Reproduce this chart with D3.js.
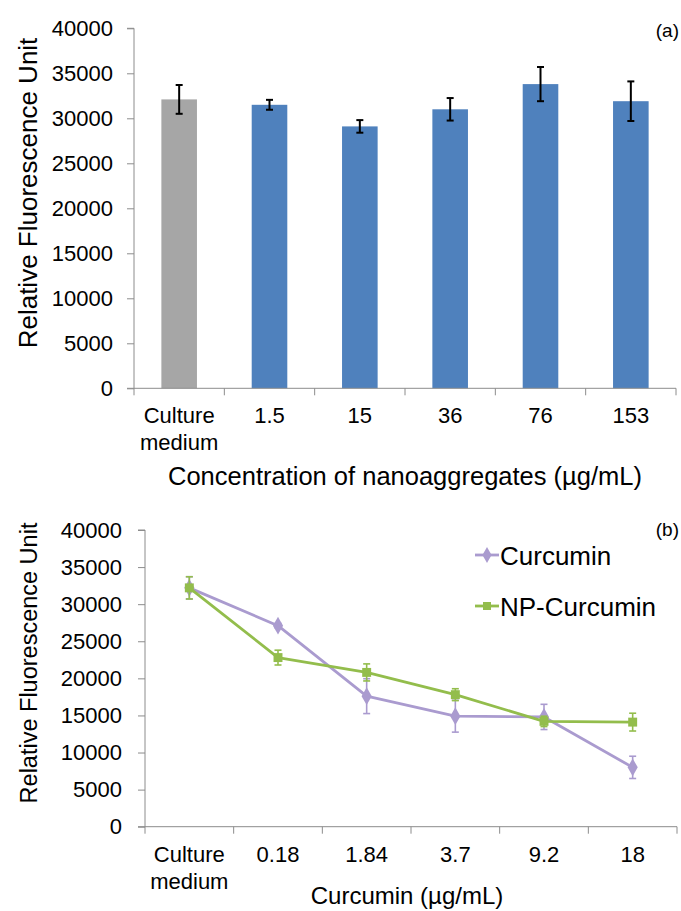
<!DOCTYPE html>
<html>
<head>
<meta charset="utf-8">
<script src="https://cdn.jsdelivr.net/npm/d3@7"></script>
<style>
  html, body { margin: 0; padding: 0; background: #fff; }
  svg { display: block; font-family: "Liberation Sans", Arial, sans-serif; }
</style>
</head>
<body>
<svg id="chart" width="681" height="911"></svg>
<script>
// ---------- Data ----------
const yTicks = [0, 5000, 10000, 15000, 20000, 25000, 30000, 35000, 40000];

// Panel (a)
const barCategories = ["Culture medium", "1.5", "15", "36", "76", "153"];
const barValues = [32100, 31500, 29100, 31000, 33800, 31900];
const barErrors = [1600, 550, 700, 1250, 1900, 2200];

// Panel (b)
const lineCategories = ["Culture medium", "0.18", "1.84", "3.7", "9.2", "18"];
const seriesNames = ["Curcumin", "NP-Curcumin"];
const curcuminValues = [32200, 27100, 17600, 14900, 14800, 8000];
const curcuminErrors = [1500, 300, 2350, 2150, 1700, 1500];
const npValues = [32200, 22800, 20800, 17800, 14200, 14100];
const npErrors = [1500, 1000, 1150, 800, 700, 1200];

// ---------- Styles ----------
const axisColor = "#8c8c8c";
const greyBar = "#a6a6a6";
const blueBar = "#4f81bd";
const purple = "#aa9bcf";
const green = "#93bd4c";

const svg = d3.select("#chart");
svg.append("rect").attr("width", 681).attr("height", 911).attr("fill", "#fff");

function drawAxes(g, x, y, cats, padY) {
  const [x0, x1] = x.range();
  const y0 = y(0);
  // y axis
  const ya = g.append("g").attr("transform", `translate(${x0},0)`)
    .call(d3.axisLeft(y).tickValues(yTicks).tickSize(7).tickPadding(padY).tickFormat(d3.format("d")));
  ya.select(".domain").attr("stroke", axisColor).attr("d", `M-7,${y(40000)}H0V${y0}`);
  ya.selectAll(".tick line").attr("stroke", axisColor);
  ya.selectAll(".tick text").attr("fill", "#000").style("font-size", "22px");
  // x axis line
  g.append("line").attr("x1", x0 - 7).attr("x2", x1).attr("y1", y0).attr("y2", y0)
    .attr("stroke", axisColor);
  // category boundary ticks
  const bounds = cats.map(c => x(c));
  bounds.push(x1);
  g.selectAll(".xb").data(bounds).join("line")
    .attr("x1", d => d).attr("x2", d => d).attr("y1", y0).attr("y2", y0 + 7)
    .attr("stroke", axisColor);
  // labels
  const lab = g.selectAll(".xl").data(cats).join("text")
    .attr("text-anchor", "middle")
    .style("font-size", "22px")
    .attr("fill", "#000");
  lab.each(function(d) {
    const t = d3.select(this);
    d.split(" ").forEach((p, i) => {
      t.append("tspan").attr("x", x(d) + x.bandwidth() / 2)
        .attr("y", y0 + 35 + i * 27).text(p);
    });
  });
}

// ---------- Panel (a) ----------
{
  const g = svg.append("g");
  const x = d3.scaleBand().domain(barCategories).range([134, 676]).paddingInner(0).paddingOuter(0);
  const y = d3.scaleLinear().domain([0, 40000]).range([388.3, 28.3]);
  const bw = x.bandwidth() * 0.394;

  g.selectAll(".bar").data(barValues).join("rect")
    .attr("x", (d, i) => x(barCategories[i]) + x.bandwidth() / 2 - bw / 2)
    .attr("width", bw)
    .attr("y", d => y(d))
    .attr("height", d => y(0) - y(d))
    .attr("fill", (d, i) => i === 0 ? greyBar : blueBar);

  drawAxes(g, x, y, barCategories, 14);

  // error bars
  const eb = g.selectAll(".eb").data(barValues).join("g");
  eb.each(function(d, i) {
    const cx = x(barCategories[i]) + x.bandwidth() / 2;
    const e = barErrors[i];
    const s = d3.select(this);
    s.append("line").attr("x1", cx).attr("x2", cx).attr("y1", y(d + e)).attr("y2", y(d - e))
      .attr("stroke", "#000").attr("stroke-width", 2);
    [d + e, d - e].forEach(v => s.append("line").attr("x1", cx - 3.5).attr("x2", cx + 3.5)
      .attr("y1", y(v)).attr("y2", y(v)).attr("stroke", "#000").attr("stroke-width", 2));
  });

  g.append("text").attr("x", 405).attr("y", 485).attr("text-anchor", "middle")
    .style("font-size", "25.5px").text("Concentration of nanoaggregates (µg/mL)");
  g.append("text").attr("transform", "translate(37,193) rotate(-90)").attr("text-anchor", "middle")
    .style("font-size", "26px").text("Relative Fluorescence Unit");
  g.append("text").attr("x", 679).attr("y", 37).attr("text-anchor", "end")
    .style("font-size", "19px").text("(a)");
}

// ---------- Panel (b) ----------
{
  const g = svg.append("g");
  const x = d3.scaleBand().domain(lineCategories).range([145, 677]).paddingInner(0).paddingOuter(0);
  const y = d3.scaleLinear().domain([0, 40000]).range([826.7, 530]);

  drawAxes(g, x, y, lineCategories, 16);

  const series = [
    { name: seriesNames[0], values: curcuminValues, errors: curcuminErrors, color: purple, shape: d3.symbolDiamond, size: 90 },
    { name: seriesNames[1], values: npValues, errors: npErrors, color: green, shape: d3.symbolSquare, size: 80 }
  ];
  const cx = c => x(c) + x.bandwidth() / 2;
  const line = d3.line().x((d, i) => cx(lineCategories[i])).y(d => y(d));

  series.forEach(s => {
    const sg = g.append("g");
    s.values.forEach((v, i) => {
      const px = cx(lineCategories[i]);
      const e = s.errors[i];
      sg.append("line").attr("x1", px).attr("x2", px).attr("y1", y(v + e)).attr("y2", y(v - e))
        .attr("stroke", s.color).attr("stroke-width", 1.6);
      [v + e, v - e].forEach(w => sg.append("line").attr("x1", px - 3.5).attr("x2", px + 3.5)
        .attr("y1", y(w)).attr("y2", y(w)).attr("stroke", s.color).attr("stroke-width", 1.6));
    });
    sg.append("path").datum(s.values).attr("d", line).attr("fill", "none")
      .attr("stroke", s.color).attr("stroke-width", 2.8).attr("stroke-linejoin", "round");
    sg.selectAll(".m").data(s.values).join("path")
      .attr("transform", (d, i) => `translate(${cx(lineCategories[i])},${y(d)})`)
      .attr("d", d3.symbol().type(s.shape).size(s.size)).attr("fill", s.color);
  });

  // legend
  const legY = [555, 606];
  series.forEach((s, i) => {
    const lg = g.append("g").attr("transform", `translate(0,${legY[i]})`);
    lg.append("line").attr("x1", 475).attr("x2", 499).attr("y1", 0).attr("y2", 0)
      .attr("stroke", s.color).attr("stroke-width", 2.8);
    lg.append("path").attr("transform", "translate(487,0)")
      .attr("d", d3.symbol().type(s.shape).size(s.size * 0.8)).attr("fill", s.color);
    lg.append("text").attr("x", 500).attr("y", 10).style("font-size", "26px").text(s.name);
  });

  g.append("text").attr("x", 407).attr("y", 904).attr("text-anchor", "middle")
    .style("font-size", "24px").text("Curcumin (µg/mL)");
  g.append("text").attr("transform", "translate(37,663) rotate(-90)").attr("text-anchor", "middle")
    .style("font-size", "23.5px").text("Relative Fluorescence Unit");
  g.append("text").attr("x", 679).attr("y", 536).attr("text-anchor", "end")
    .style("font-size", "19px").text("(b)");
}
</script>
</body>
</html>
